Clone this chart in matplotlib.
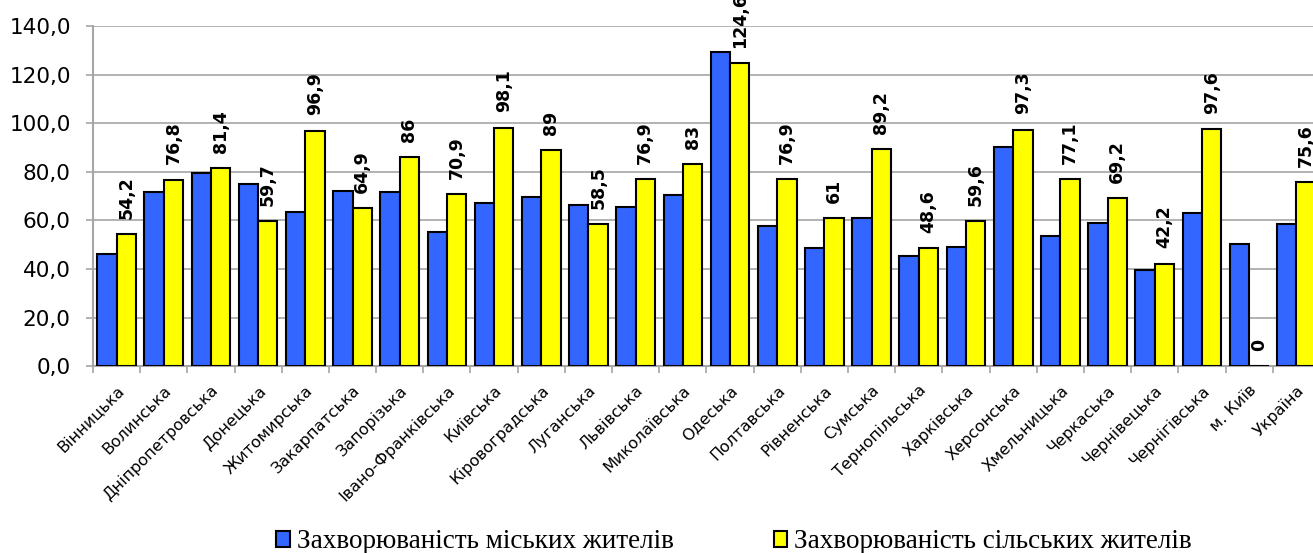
import matplotlib
matplotlib.use("Agg")
import matplotlib.pyplot as plt
import numpy as np
from matplotlib.patches import Patch
from matplotlib.ticker import FuncFormatter, MultipleLocator

regions = ["Вінницька", "Волинська", "Дніпропетровська", "Донецька", "Житомирська",
           "Закарпатська", "Запорізька", "Івано-Франківська", "Київська", "Кіровоградська",
           "Луганська", "Львівська", "Миколаївська", "Одеська", "Полтавська", "Рівненська",
           "Сумська", "Тернопільська", "Харківська", "Херсонська", "Хмельницька",
           "Черкаська", "Чернівецька", "Чернігівська", "м. Київ", "Україна"]
urban = [46.1, 71.5, 79.6, 74.8, 63.4, 72.0, 71.5, 55.0, 67.2, 69.5,
         66.5, 65.6, 70.6, 129.3, 57.7, 48.7, 60.9, 45.5, 49.0, 90.1,
         53.5, 58.7, 39.5, 63.0, 50.1, 58.4]
rural = [54.2, 76.8, 81.4, 59.7, 96.9, 64.9, 86, 70.9, 98.1, 89,
         58.5, 76.9, 83, 124.6, 76.9, 61, 89.2, 48.6, 59.6, 97.3,
         77.1, 69.2, 42.2, 97.6, 0, 75.6]
legend_labels = ["Захворюваність міських жителів", "Захворюваність сільських жителів"]

blue = "#3366FF"
yellow = "#FFFF00"
grid_c = "#A6A6A6"

fig = plt.figure(figsize=(13.13, 5.53), dpi=100)
ax = fig.add_axes([0.0708, 0.338, 0.9345, 0.615])

x = np.arange(len(regions))
w = 0.41
ax.bar(x - w / 2, urban, w, color=blue, edgecolor="black", linewidth=1.5, zorder=3)
ax.bar(x + w / 2, rural, w, color=yellow, edgecolor="black", linewidth=1.5, zorder=3)

# data labels on the rural series
for xi, v in zip(x, rural):
    txt = ("%g" % v).replace(".", ",")
    ax.annotate(txt, (xi + w / 2, v), xytext=(0, 11), textcoords="offset points",
                rotation=90, ha="center", va="bottom", fontsize=12.5,
                fontweight="bold", annotation_clip=False, zorder=4)

ax.set_xlim(-0.5, len(regions) - 0.5)
ax.set_ylim(0, 140)
ax.yaxis.set_major_locator(MultipleLocator(20))
ax.yaxis.set_major_formatter(FuncFormatter(lambda v, p: ("%.1f" % v).replace(".", ",")))
ax.grid(axis="y", color=grid_c, linewidth=1.2, zorder=0)

ax.set_xticks(x)
ax.set_xticklabels(regions, rotation=45, ha="right", rotation_mode="anchor", fontsize=11.5)
ax.set_xticks(np.arange(len(regions) + 1) - 0.5, minor=True)
ax.tick_params(axis="x", which="major", length=0, pad=12)
ax.tick_params(axis="x", which="minor", length=5, color=grid_c, width=1.2)
ax.tick_params(axis="y", length=5, color=grid_c, width=1.2, labelsize=15.5, pad=11)

for s in ["top", "right"]:
    ax.spines[s].set_visible(False)
for s in ["left", "bottom"]:
    ax.spines[s].set_color(grid_c)
    ax.spines[s].set_linewidth(1.5)

handles = [Patch(facecolor=blue, edgecolor="black", linewidth=1.5),
           Patch(facecolor=yellow, edgecolor="black", linewidth=1.5)]
fig.legend(handles, legend_labels, loc="center", bbox_to_anchor=(0.559, 0.02), ncol=2,
           frameon=False, handlelength=0.5, handleheight=0.5, handletextpad=0.25,
           columnspacing=3.7, prop={"family": "Liberation Serif", "size": 19.5})

fig.savefig("out.png", dpi=100)
